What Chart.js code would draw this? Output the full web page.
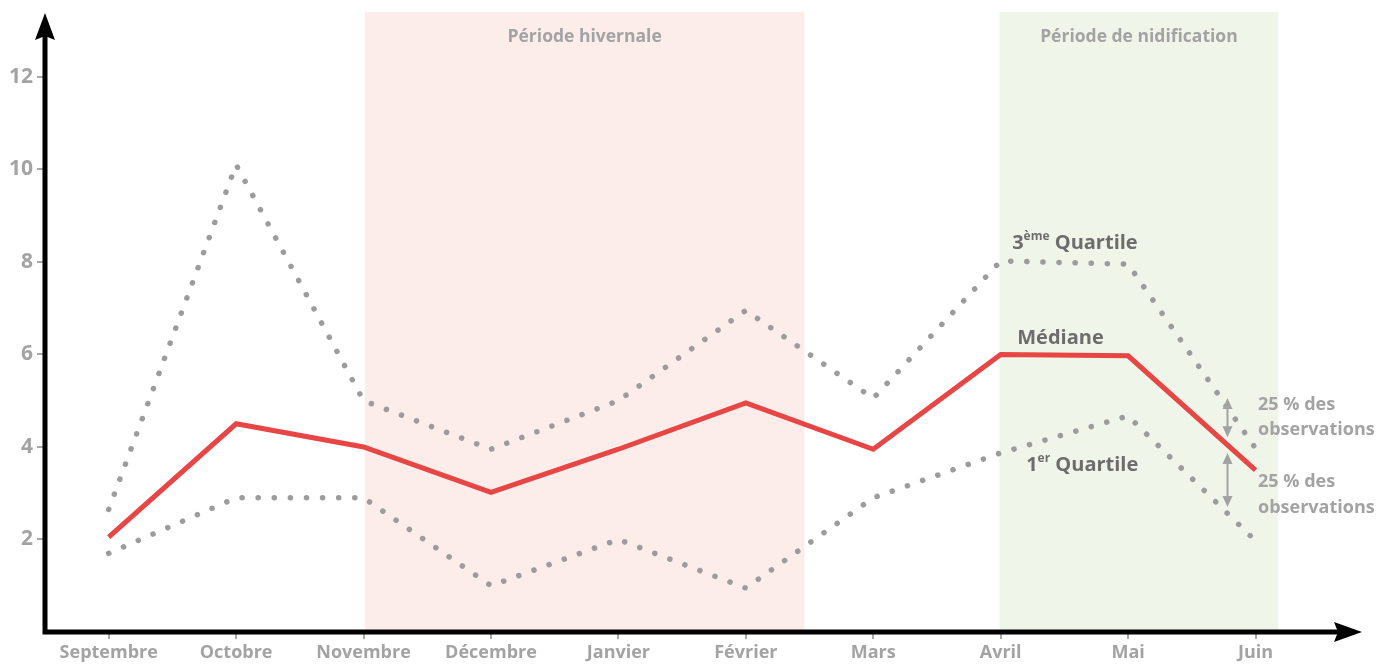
<!DOCTYPE html>
<html>
<head>
<meta charset="utf-8">
<script src="https://cdn.jsdelivr.net/npm/chart.js@4"></script>
<style>
  html, body { margin: 0; padding: 0; background: #fff; }
  #wrap { width: 1391px; height: 664px; }
</style>
</head>
<body>
<div id="wrap"><canvas id="myChart"></canvas></div>
<script>
const months = ['Septembre', 'Octobre', 'Novembre', 'Décembre', 'Janvier', 'Février', 'Mars', 'Avril', 'Mai', 'Juin'];
const mediane = [2.05, 4.5, 4.0, 3.02, 3.95, 4.95, 3.95, 6.0, 5.97, 3.5];
const quartile3 = [2.65, 10.1, 5.0, 3.95, 5.0, 6.95, 5.05, 8.02, 7.95, 3.97];
const quartile1 = [1.7, 2.9, 2.9, 1.0, 2.0, 0.95, 2.9, 3.87, 4.67, 1.97];
const yTicks = [2, 4, 6, 8, 10, 12];

const font = '"Open Sans", "DejaVu Sans", sans-serif';
const grey = '#a3a3a3';
const darkGrey = '#6d6d6d';

// periods, in month index units
const periodes = [
    {label: 'Période hivernale', from: 2.01, to: 5.46, color: '#fcecea'},
    {label: 'Période de nidification', from: 6.99, to: 9.18, color: '#f0f5ea'}
];

function toPoints(values) {
    return values.map((v, i) => ({x: i, y: v}));
}

const decor = {
    id: 'decor',
    beforeDatasetsDraw(chart) {
        const c = chart.ctx, x = chart.scales.x, y = chart.scales.y, a = chart.chartArea;
        c.save();
        periodes.forEach(p => {
            const x0 = x.getPixelForValue(p.from), x1 = x.getPixelForValue(p.to);
            c.fillStyle = p.color;
            c.fillRect(x0, a.top, x1 - x0, a.bottom - a.top);
            c.fillStyle = grey;
            c.font = 'bold 17.5px ' + font;
            c.textAlign = 'center';
            c.textBaseline = 'middle';
            c.fillText(p.label, (x0 + x1) / 2, a.top + 25);
        });
        c.restore();
    },
    afterDatasetsDraw(chart) {
        const c = chart.ctx, x = chart.scales.x, y = chart.scales.y, a = chart.chartArea;
        c.save();
        // axes with arrows
        c.strokeStyle = '#000';
        c.fillStyle = '#000';
        c.lineWidth = 5;
        c.beginPath();
        c.moveTo(a.left, a.top + 20);
        c.lineTo(a.left, a.bottom);
        c.lineTo(a.right - 20, a.bottom);
        c.stroke();
        c.beginPath();
        c.moveTo(a.left, a.top + 1);
        c.lineTo(a.left - 10, a.top + 28);
        c.lineTo(a.left, a.top + 24);
        c.lineTo(a.left + 10, a.top + 28);
        c.closePath();
        c.fill();
        c.beginPath();
        c.moveTo(a.right + 2, a.bottom);
        c.lineTo(a.right - 26, a.bottom - 10);
        c.lineTo(a.right - 22, a.bottom);
        c.lineTo(a.right - 26, a.bottom + 10);
        c.closePath();
        c.fill();

        // series labels
        c.fillStyle = darkGrey;
        c.textBaseline = 'middle';
        c.textAlign = 'left';
        function supLabel(base, sup, rest, xv, yv) {
            let px = x.getPixelForValue(xv), py = y.getPixelForValue(yv);
            c.font = 'bold 20px ' + font;
            c.fillText(base, px, py);
            px += c.measureText(base).width;
            c.font = 'bold 12px ' + font;
            c.fillText(sup, px, py - 7);
            px += c.measureText(sup).width;
            c.font = 'bold 20px ' + font;
            c.fillText(rest, px, py);
        }
        supLabel('3', 'ème', ' Quartile', 7.09, 8.4);
        supLabel('', '', 'Médiane', 7.13, 6.35);
        supLabel('1', 'er', ' Quartile', 7.2, 3.6);

        // 25 % arrows
        c.strokeStyle = grey;
        c.fillStyle = grey;
        c.lineWidth = 2;
        function dblArrow(xv, y0, y1) {
            const px = x.getPixelForValue(xv), p0 = y.getPixelForValue(y0), p1 = y.getPixelForValue(y1);
            c.beginPath();
            c.moveTo(px, p0 + 8);
            c.lineTo(px, p1 - 8);
            c.stroke();
            c.beginPath();
            c.moveTo(px, p0); c.lineTo(px - 5, p0 + 11); c.lineTo(px + 5, p0 + 11); c.closePath();
            c.moveTo(px, p1); c.lineTo(px - 5, p1 - 11); c.lineTo(px + 5, p1 - 11); c.closePath();
            c.fill();
        }
        dblArrow(8.78, 5.06, 4.21);
        dblArrow(8.78, 3.87, 2.7);
        c.font = 'bold 18px ' + font;
        [[4.91, 4.37], [3.24, 2.68]].forEach(pair => {
            const px = x.getPixelForValue(9.02);
            c.fillText('25 % des', px, y.getPixelForValue(pair[0]));
            c.fillText('observations', px, y.getPixelForValue(pair[1]));
        });
        c.restore();
    }
};

const ctx = document.getElementById('myChart');
var chart = new Chart(ctx, {
    type: 'line',
    data: {
        datasets: [{
            label: 'Médiane',
            data: toPoints(mediane),
            borderColor: '#e84545',
            borderWidth: 5,
            pointRadius: 0,
            tension: 0
        }, {
            label: '3ème Quartile',
            data: toPoints(quartile3),
            borderColor: '#9c9c9c',
            borderWidth: 5.5,
            borderDash: [0.1, 16],
            borderCapStyle: 'round',
            pointRadius: 0,
            tension: 0
        }, {
            label: '1er Quartile',
            data: toPoints(quartile1),
            borderColor: '#9c9c9c',
            borderWidth: 5.5,
            borderDash: [0.1, 16],
            borderCapStyle: 'round',
            pointRadius: 0,
            tension: 0
        }]
    },
    options: {
        responsive: true,
        maintainAspectRatio: false,
        animation: false,
        layout: {padding: {top: 12, right: 31, left: 0, bottom: 0}},
        plugins: {legend: {display: false}, tooltip: {enabled: false}},
        scales: {
            x: {
                type: 'linear',
                min: -0.5,
                max: 9.82,
                afterBuildTicks: scale => { scale.ticks = months.map((m, i) => ({value: i})); },
                afterFit: scale => { scale.height = 32; scale.paddingLeft = 0; scale.paddingRight = 0; },
                border: {display: false},
                grid: {drawOnChartArea: false, drawTicks: true, tickLength: 7, tickColor: '#a9a9a9', lineWidth: 2},
                ticks: {
                    autoSkip: false,
                    maxRotation: 0,
                    padding: 3,
                    color: grey,
                    font: {family: font, size: 18, weight: 'bold'},
                    callback: v => months[v]
                }
            },
            y: {
                min: 0,
                max: 13.4,
                afterBuildTicks: scale => { scale.ticks = yTicks.map(v => ({value: v})); },
                afterFit: scale => { scale.width = 45; scale.paddingTop = 0; scale.paddingBottom = 0; },
                border: {display: false},
                grid: {drawOnChartArea: false, drawTicks: true, tickLength: 8, tickColor: '#a9a9a9', lineWidth: 2},
                ticks: {
                    padding: 4,
                    color: grey,
                    font: {family: font, size: 21, weight: 'bold'}
                }
            }
        }
    },
    plugins: [decor]
});
</script>
</body>
</html>
